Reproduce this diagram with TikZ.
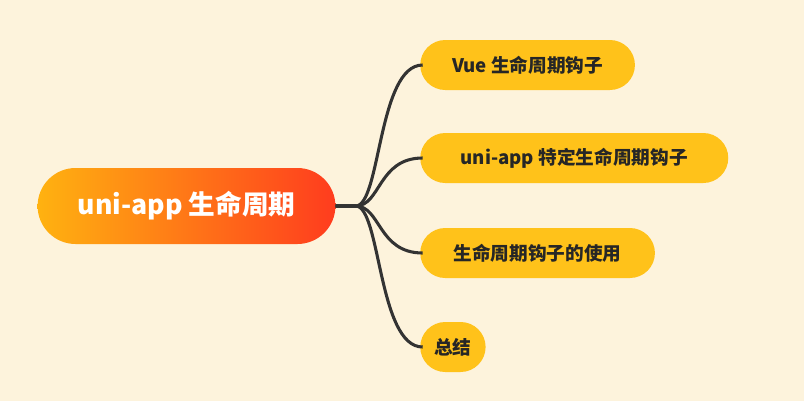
\documentclass[tikz,border=0pt]{standalone}
\usepackage{fontspec}
\setmainfont{Noto Sans CJK SC}
\usetikzlibrary{shapes.misc}
\definecolor{bg}{HTML}{FDF3DC}
\definecolor{leafc}{HTML}{FFC21A}
\definecolor{rootl}{HTML}{FFB210}
\definecolor{rootr}{HTML}{FF3C1E}
\definecolor{linec}{HTML}{333333}
\tikzset{
  leaf/.style={rounded rectangle, fill=leafc, minimum height=37.5pt, inner xsep=14pt, anchor=west, font=\fontsize{14}{16}\selectfont\bfseries, text=black!85},
  rootn/.style={rounded rectangle, left color=rootl, right color=rootr, minimum height=57pt, minimum width=230pt, font=\fontsize{20}{24}\selectfont\bfseries, text=white},
  conn/.style={draw=linec, line width=2.3pt}
}
\begin{document}
\begin{tikzpicture}[x=0.75pt,y=-0.75pt]
\fill[bg] (0,0) rectangle (804,401);
\useasboundingbox (0,0) rectangle (804,401);
\node[rootn] (root) at (186.5,206) {uni-app 生命周期};
\node[leaf, minimum width=189pt] (a) at (420,65) {Vue 生命周期钩子};
\node[leaf, minimum width=259pt] (b) at (420,158) {uni-app 特定生命周期钩子};
\node[leaf, minimum width=204pt] (c) at (420,253) {生命周期钩子的使用};
\node[leaf, minimum width=77pt] (d) at (420,347) {总结};
\coordinate (s) at (root.east);
\foreach \n in {a,b,c,d}{
  \draw[conn] (s) -- ++(20,0) .. controls +(25,0) and (378,0 |- \n.west) .. ([xshift=2pt]\n.west);
}
\end{tikzpicture}
\end{document}
